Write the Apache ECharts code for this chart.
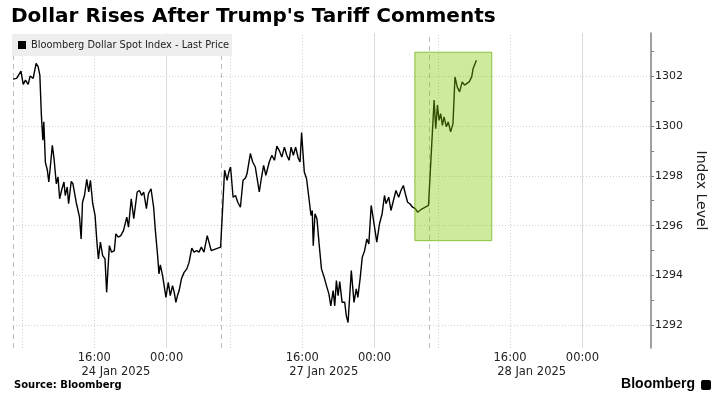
<!DOCTYPE html>
<html lang="en">
<head>
<meta charset="UTF-8">
<title>Dollar Rises After Trump's Tariff Comments</title>
<script src="https://cdn.jsdelivr.net/npm/echarts@6/dist/echarts.min.js"></script>
<style>html,body{margin:0;padding:0;background:#fff}</style>
</head>
<body>
<div id="main" style="width:716px;height:397px"></div>
<script>
// x is trading time in hours from 24 Jan 07:00, with the non-trading gaps removed
// (each session runs 07:00 -> 06:00 next day)
const seriesName = 'Bloomberg Dollar Spot Index - Last Price';

const hours = [
  // 24 Jan session
  0.00,0.40,0.88,1.13,1.38,1.68,1.90,2.23,2.56,2.78,2.97,3.14,3.30,3.41,3.58,3.80,3.96,4.18,4.35,4.54,
  4.79,4.98,5.16,5.42,5.64,5.78,6.00,6.15,6.44,6.63,6.99,7.36,7.54,7.69,7.91,8.16,8.38,8.57,8.82,9.08,
  9.30,9.45,9.67,9.92,10.18,10.36,10.66,10.91,11.21,11.38,11.65,11.93,12.23,12.59,12.78,13.08,13.36,13.74,13.99,14.24,
  14.46,14.76,14.98,15.27,15.56,15.75,16.00,16.15,16.30,16.55,16.92,17.18,17.40,17.65,17.84,18.02,18.20,18.38,18.64,18.93,
  19.23,19.48,19.78,20.03,20.33,20.58,20.84,21.13,21.49,21.93,22.97,
  // 27 Jan session
  23.41,23.69,23.88,24.07,24.35,24.62,24.87,25.16,25.45,25.71,25.89,26.26,26.52,26.81,26.99,27.25,27.47,27.73,27.98,28.35,
  28.64,28.93,29.19,29.45,29.74,30.03,30.29,30.55,30.77,31.02,31.27,31.57,31.76,31.93,32.23,32.48,32.75,32.97,33.11,33.22,
  33.41,33.63,33.85,34.13,34.43,34.68,34.95,35.16,35.42,35.60,35.78,35.97,36.15,36.41,36.70,36.88,37.07,37.43,37.73,37.98,
  38.16,38.42,38.64,38.90,39.15,39.37,39.63,39.89,40.25,40.55,40.84,41.10,41.27,41.57,41.82,42.09,42.37,42.67,42.92,43.19,
  43.41,43.66,43.91,44.21,44.51,44.76,45.12,45.97,
  // 28 Jan session
  46.59,46.77,46.96,47.14,47.32,47.51,47.69,47.95,48.16,48.42,48.68,48.90,49.15,49.41,49.70,49.96,50.22,50.47,50.75,50.91,
  51.13,51.27
];

const prices = [
  1301.87,1301.90,1302.19,1301.66,1301.83,1301.66,1302.00,1301.90,1302.50,1302.37,1302.03,1300.43,1299.42,1300.16,1298.55,1298.22,1297.75,1298.55,1299.22,1298.69,
  1297.68,1297.95,1297.08,1297.48,1297.75,1297.21,1297.55,1296.88,1297.77,1297.68,1296.94,1296.34,1295.47,1296.94,1297.21,1297.86,1297.35,1297.82,1296.88,1296.41,
  1295.27,1294.67,1295.34,1294.80,1294.67,1293.33,1295.20,1294.94,1295.00,1295.67,1295.54,1295.60,1295.81,1296.34,1295.94,1297.08,1296.28,1297.35,1297.41,1297.21,
  1297.35,1296.68,1297.28,1297.48,1296.74,1295.81,1294.80,1294.07,1294.43,1294.00,1293.13,1293.73,1293.20,1293.60,1293.33,1292.93,1293.20,1293.40,1293.87,1294.13,
  1294.27,1294.53,1295.10,1294.94,1295.00,1294.94,1295.14,1294.94,1295.60,1295.00,1295.14,

  1298.22,1297.82,1298.15,1298.35,1297.14,1297.21,1296.94,1296.74,1297.82,1297.90,1298.08,1298.89,1298.55,1298.35,1298.29,1297.35,1297.88,1298.42,1298.02,1298.55,
  1298.82,1298.62,1299.19,1299.02,1298.75,1299.15,1298.82,1298.62,1299.15,1298.82,1299.15,1298.69,1298.55,1299.73,1298.15,1297.88,1297.08,1296.41,1296.61,1295.20,
  1296.48,1296.28,1295.34,1294.27,1293.93,1293.60,1293.27,1292.79,1293.40,1292.79,1293.80,1293.20,1293.76,1292.93,1292.93,1292.39,1292.12,1294.20,1292.93,1293.47,
  1293.13,1293.93,1294.73,1295.00,1295.47,1295.27,1296.81,1296.21,1295.34,1296.08,1296.48,1297.21,1296.88,1297.14,1296.61,1297.01,1297.41,1297.14,1297.41,1297.61,
  1297.28,1296.94,1296.88,1296.74,1296.68,1296.54,1296.64,1296.81,

  1301.03,1299.89,1300.83,1300.22,1300.49,1300.02,1300.36,1299.96,1300.16,1299.76,1300.09,1301.96,1301.56,1301.36,1301.76,1301.63,1301.70,1301.76,1301.96,1302.30,
  1302.50,1302.63
];

// x axis labels
const timeTicks = [9, 17, 32, 40, 55, 63];
const timeLabels = ['16:00', '00:00', '16:00', '00:00', '16:00', '00:00'];
const dateTicks = [9, 32, 55];
const dateLabels = ['24 Jan 2025', '27 Jan 2025', '28 Jan 2025'];

// vertical guides
const sessionBreaks = [0, 23, 46];
const hourLines = [1, 9, 24, 32, 47, 55];   // 08:00 and 16:00
const midnights = [17, 40, 63];

// y axis
const yTicks = [1292, 1294, 1296, 1298, 1300, 1302];
const yMinorTicks = [1292, 1293, 1294, 1295, 1296, 1297, 1298, 1299, 1300, 1301, 1302, 1303];

// highlighted window after the comments
const highlightHours = [44.46, 52.97];
const highlightLevels = [1295.4, 1302.95];

const FONT = 'DejaVu Sans';

let myChart = echarts.init(document.getElementById('main'));

let guides = []
  .concat(yTicks.map(v => ({ yAxis: v, lineStyle: { type: [1, 2], color: '#d2d2d2', width: 1 } })))
  .concat(hourLines.map(v => ({ xAxis: v, lineStyle: { type: [1, 2], color: '#d6d6d6', width: 1 } })))
  .concat(midnights.map(v => ({ xAxis: v, lineStyle: { type: 'solid', color: '#dadada', width: 1 } })))
  .concat(sessionBreaks.map(v => ({ xAxis: v, lineStyle: { type: [5, 4], color: '#bdbdbd', width: 1 } })));

// both x axes share the same scale; the second one only carries the date line
let xBase = {
  type: 'value',
  min: 0, max: 70.6,
  position: 'bottom',
  axisLine: { show: false, onZero: false },
  axisTick: { show: false },
  splitLine: { show: false }
};

let option = {
  animation: false,
  backgroundColor: '#fff',
  title: [
    {
      text: "Dollar Rises After Trump's Tariff Comments",
      left: 6, top: 2,
      textStyle: { fontFamily: FONT, fontWeight: 'bold', fontSize: 20, color: '#000' }
    },
    {
      text: 'Source: Bloomberg',
      left: 9, top: 375,
      textStyle: { fontFamily: FONT, fontWeight: 'bold', fontSize: 10, color: '#000' }
    }
  ],
  legend: {
    data: [seriesName],
    left: 12, top: 34,
    padding: [6, 3, 6, 6],
    backgroundColor: '#eeeeee',
    icon: 'rect',
    itemWidth: 8, itemHeight: 8,
    selectedMode: false,
    textStyle: { fontFamily: FONT, fontSize: 9.8, color: '#222' }
  },
  grid: { left: 13, right: 61, top: 33, bottom: 49 },
  xAxis: [
    Object.assign({}, xBase, {
      axisLabel: {
        customValues: timeTicks,
        showMinLabel: true,
        showMaxLabel: true,
        hideOverlap: false,
        margin: 3,
        fontFamily: FONT, fontSize: 11.5, color: '#222', lineHeight: 14,
        formatter: v => timeLabels[timeTicks.indexOf(v)]
      }
    }),
    Object.assign({}, xBase, {
      offset: 14,
      axisLabel: {
        customValues: dateTicks,
        showMinLabel: true,
        showMaxLabel: true,
        hideOverlap: false,
        margin: 3,
        formatter: v => '{d|' + dateLabels[dateTicks.indexOf(v)] + '}',
        rich: {
          d: { fontFamily: FONT, fontSize: 11.5, color: '#222', lineHeight: 14, padding: [0, 0, 0, 43] }
        }
      }
    })
  ],
  yAxis: {
    type: 'value',
    position: 'right',
    min: 1291.1, max: 1303.72,
    name: 'Index Level',
    nameLocation: 'middle',
    nameRotate: -90,
    nameGap: 38,
    nameTextStyle: { fontFamily: FONT, fontSize: 14, color: '#222' },
    axisLine: { show: true, onZero: false, lineStyle: { color: '#808080', width: 1.5 } },
    axisTick: { show: true, customValues: yMinorTicks, length: 3, lineStyle: { color: '#808080' } },
    axisLabel: {
      customValues: yTicks,
      showMinLabel: true,
      showMaxLabel: true,
      margin: 4,
      fontFamily: FONT, fontSize: 11, color: '#222',
      formatter: v => String(v)
    },
    splitLine: { show: false }
  },
  series: [
    {
      name: 'guides',
      type: 'line',
      data: [],
      z: 1,
      silent: true,
      markLine: {
        z: 1,
        symbol: 'none',
        silent: true,
        animation: false,
        label: { show: false },
        emphasis: { disabled: true },
        data: guides
      }
    },
    {
      name: seriesName,
      type: 'line',
      z: 3,
      showSymbol: false,
      symbol: 'none',
      data: hours.map((h, i) => [h, prices[i]]),
      lineStyle: { color: '#000', width: 1.4 },
      itemStyle: { color: '#000' }
    },
    {
      name: 'highlight',
      type: 'line',
      data: [],
      z: 10,
      silent: true,
      markArea: {
        z: 10,
        silent: true,
        itemStyle: { color: 'rgba(128,200,0,0.39)', borderColor: 'rgba(110,180,20,0.75)', borderWidth: 1 },
        data: [[
          { xAxis: highlightHours[0], yAxis: highlightLevels[0] },
          { xAxis: highlightHours[1], yAxis: highlightLevels[1] }
        ]]
      }
    }
  ],
  graphic: [
    {
      type: 'text', right: 21, top: 377,
      style: { text: 'Bloomberg', fill: '#000', font: 'bold 14px "Liberation Sans"' }
    },
    {
      type: 'rect', right: 5, top: 380,
      shape: { width: 10, height: 10, r: 2 },
      style: { fill: '#000' }
    }
  ]
};

myChart.setOption(option);
</script>
</body>
</html>
